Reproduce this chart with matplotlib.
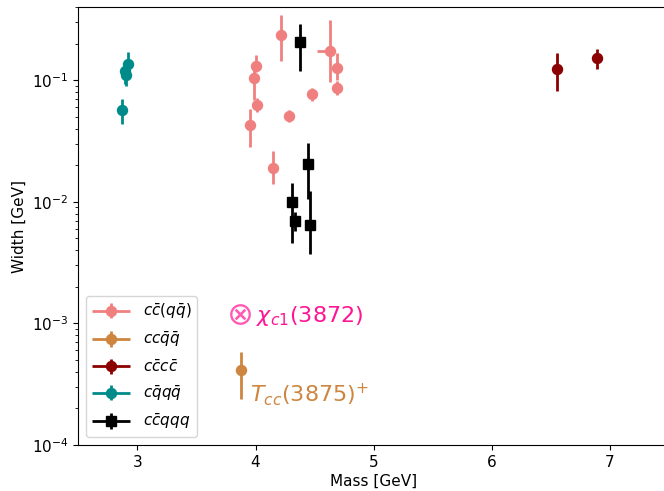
import matplotlib
matplotlib.use('Agg')
import matplotlib.pyplot as plt
from matplotlib.container import ErrorbarContainer
from matplotlib.legend_handler import HandlerErrorbar

# c cbar (q qbar)
ccqq_mass = [4.215, 4.003, 3.989, 4.015, 3.955, 4.286, 4.145, 4.475, 4.630, 4.687, 4.692]
ccqq_width = [0.234, 0.131, 0.105, 0.063, 0.043, 0.051, 0.019, 0.077, 0.175, 0.126, 0.087]
ccqq_werr_lo = [0.089, 0.015, 0.036, 0.008, 0.015, 0.006, 0.005, 0.010, 0.079, 0.026, 0.012]
ccqq_werr_hi = [0.112, 0.030, 0.028, 0.008, 0.015, 0.006, 0.007, 0.010, 0.135, 0.040, 0.012]
ccqq_merr_lo = [0, 0, 0, 0, 0, 0, 0, 0, 0.107, 0, 0]
ccqq_merr_hi = [0, 0, 0, 0, 0, 0, 0, 0, 0.0, 0, 0]

# c c qbar qbar
tcc_mass = [3.875]
tcc_width = [0.00041]
tcc_werr = [0.00017]

# c cbar c cbar
cccc_mass = [6.552, 6.894]
cccc_width = [0.124, 0.152]
cccc_werr_lo = [0.042, 0.028]
cccc_werr_hi = [0.045, 0.029]

# c qbar q qbar
cqqq_mass = [2.866, 2.892, 2.904, 2.921]
cqqq_width = [0.057, 0.119, 0.110, 0.137]
cqqq_werr = [0.013, 0.026, 0.020, 0.035]

# c cbar q q q
pc_mass = [4.380, 4.440, 4.312, 4.338, 4.457]
pc_width = [0.205, 0.0206, 0.0099, 0.0070, 0.0064]
pc_werr_lo = [0.087, 0.0101, 0.0053, 0.0012, 0.0027]
pc_werr_hi = [0.087, 0.0098, 0.0045, 0.0012, 0.0058]

x3872_mass = 3.87165
x3872_width = 0.00119

fig = plt.figure(figsize=(6.64, 4.91), dpi=100)
ax = fig.add_axes([0.118, 0.0937, 0.8895, 0.892])

kw = dict(elinewidth=2, markersize=7.2, capsize=0, linestyle='none')
ax.errorbar(ccqq_mass, ccqq_width, yerr=[ccqq_werr_lo, ccqq_werr_hi],
            xerr=[ccqq_merr_lo, ccqq_merr_hi], fmt='o', color='lightcoral',
            label=r'$c\bar{c}(q\bar{q})$', **kw)
ax.errorbar(tcc_mass, tcc_width, yerr=tcc_werr, xerr=[0], fmt='o', color='peru',
            label=r'$cc\bar{q}\bar{q}$', **kw)
ax.errorbar(cccc_mass, cccc_width, yerr=[cccc_werr_lo, cccc_werr_hi],
            xerr=[0, 0], fmt='o', color='darkred',
            label=r'$c\bar{c}c\bar{c}$', **kw)
ax.errorbar(cqqq_mass, cqqq_width, yerr=cqqq_werr, xerr=[0, 0, 0, 0],
            fmt='o', color='darkcyan', label=r'$c\bar{q}q\bar{q}$', **kw)
ax.errorbar(pc_mass, pc_width, yerr=[pc_werr_lo, pc_werr_hi],
            xerr=[0, 0, 0, 0, 0], fmt='s', color='black',
            label=r'$c\bar{c}qqq$', **kw)

ax.plot([x3872_mass], [x3872_width], marker=r'$\otimes$', markersize=15,
        markeredgewidth=0, color='deeppink', alpha=0.7, linestyle='none')
ax.text(4.0, 0.00102, r'$\chi_{c1}(3872)$', color='deeppink', fontsize=16)
ax.text(3.95, 0.00023, r'$T_{cc}(3875)^{+}$', color='peru', fontsize=16)

ax.set_yscale('log')
ax.set_xlim(2.5, 7.5)
ax.set_ylim(1e-4, 0.4)
ax.tick_params(labelsize=11)
ax.set_xlabel('Mass [GeV]', fontsize=11, labelpad=3)
ax.set_ylabel('Width [GeV]', fontsize=11)
ax.legend(loc='lower left', fontsize=11, handlelength=2.5, labelspacing=0.6,
          handler_map={ErrorbarContainer: HandlerErrorbar(xerr_size=1.25,
                                                          yerr_size=0.5)})

fig.savefig('out.png', dpi=100)
